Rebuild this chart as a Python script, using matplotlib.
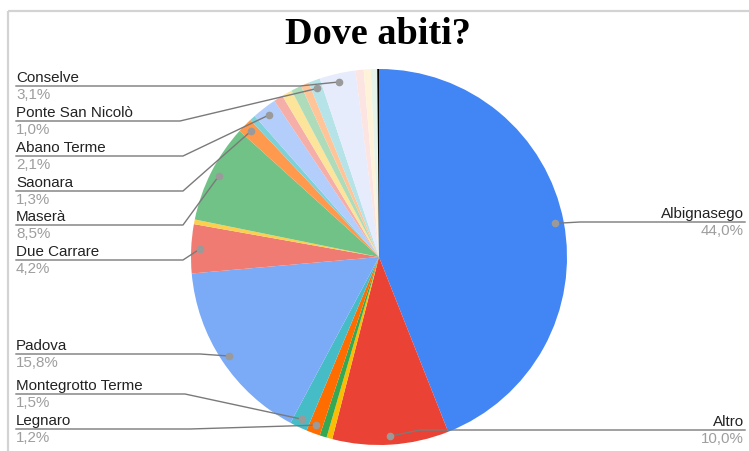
import numpy as np
import matplotlib
matplotlib.use("Agg")
import matplotlib.pyplot as plt

# slice data in drawing order (clockwise from 12 o'clock); '' = unlabeled small slice
names = ["Albignasego", "Altro", "", "", "Legnaro", "Montegrotto Terme", "Padova",
         "Due Carrare", "", "Maserà", "Saonara", "", "Abano Terme", "", "", "", "",
         "Ponte San Nicolò", "Conselve", "", "", "", ""]
values = [44.0, 10.0, 0.5, 0.6, 1.2, 1.5, 15.8,
          4.2, 0.4, 8.5, 1.3, 0.5, 2.1, 0.8, 0.9, 0.9, 0.7,
          1.0, 3.1, 0.7, 0.6, 0.55, 0.15]
pct_labels = {"Albignasego": "44,0%", "Altro": "10,0%", "Legnaro": "1,2%",
              "Montegrotto Terme": "1,5%", "Padova": "15,8%", "Due Carrare": "4,2%",
              "Maserà": "8,5%", "Saonara": "1,3%", "Abano Terme": "2,1%",
              "Ponte San Nicolò": "1,0%", "Conselve": "3,1%"}
colors = ["#4285F4", "#EA4335", "#FBBC04", "#34A853", "#FF6D01", "#46BDC6", "#7BAAF7",
          "#F07B72", "#FCD04F", "#71C287", "#FF994D", "#7ED1D7", "#B3CEFB", "#F6AEA9",
          "#FDE49B", "#AEDCBA", "#FFC599", "#B5E3E7", "#E6ECFC", "#FCE4E2", "#FEF3D9",
          "#E6F4EA", "#000000"]

W, H = 749, 452
fig = plt.figure(figsize=(W / 100, H / 100), dpi=100)
ax = fig.add_axes([0, 0, 1, 1])

def Y(y):
    # pixel row (from top) -> data y
    return H - y

cx, cy, R = 379, Y(258), 188
ax.pie(values, colors=colors, startangle=90, counterclock=False,
       center=(cx, cy), radius=R, wedgeprops=dict(linewidth=0))
ax.set_xlim(0, W)
ax.set_ylim(0, H)
ax.set_aspect("auto")
ax.axis("off")

# mid-angle dot for each slice
total = sum(values)
cum = np.cumsum([0] + values[:-1])
dots = {}
for n, v, c in zip(names, values, cum):
    if not n:
        continue
    th = np.deg2rad(90 - 360 * (c + v / 2) / total)
    dots[n] = (cx + 0.955 * R * np.cos(th), cy + 0.955 * R * np.sin(th))

line_col = "#7a7a7a"
name_kw = dict(fontsize=10.9, family="Liberation Sans", color="#222222")
pct_kw = dict(fontsize=10.9, family="Liberation Sans", color="#9e9e9e")

# left side labels: (name, line row, bend x)
left = [("Conselve", 87, 300), ("Ponte San Nicolò", 122, 180), ("Abano Terme", 157, 183),
        ("Saonara", 192, 183), ("Maserà", 226, 183), ("Due Carrare", 261, 183),
        ("Padova", 355, 200), ("Montegrotto Terme", 395, 185), ("Legnaro", 430, 190)]
for n, ly, bx in left:
    dx, dy = dots[n]
    ax.plot([16, bx, dx], [Y(ly), Y(ly), dy], color=line_col, lw=1.0)
    ax.plot(dx, dy, "o", color="#9a9a9a", ms=4.5)
    ax.text(16, Y(ly) + 2, n, ha="left", va="bottom", **name_kw)
    ax.text(16, Y(ly) - 1, pct_labels[n], ha="left", va="top", **pct_kw)

# right side labels
right = [("Albignasego", 223, 580), ("Altro", 431, 420)]
for n, ly, bx in right:
    dx, dy = dots[n]
    ax.plot([dx, bx, 745], [dy, Y(ly), Y(ly)], color=line_col, lw=1.0)
    ax.plot(dx, dy, "o", color="#9a9a9a", ms=4.5)
    ax.text(744, Y(ly) + 2, n, ha="right", va="bottom", **name_kw)
    ax.text(744, Y(ly) - 1, pct_labels[n], ha="right", va="top", **pct_kw)

# frame lines
ax.plot([8, W], [Y(12), Y(12)], color="#d3d3d3", lw=1.6, solid_capstyle="butt")
ax.plot([8, 8], [Y(12), 0], color="#d3d3d3", lw=1.6, solid_capstyle="butt")

ax.text(378, Y(35), "Dove abiti?", ha="center", va="center", fontsize=27.5,
        family="Liberation Serif", weight="bold", color="black")

fig.savefig("out.png", dpi=100)
